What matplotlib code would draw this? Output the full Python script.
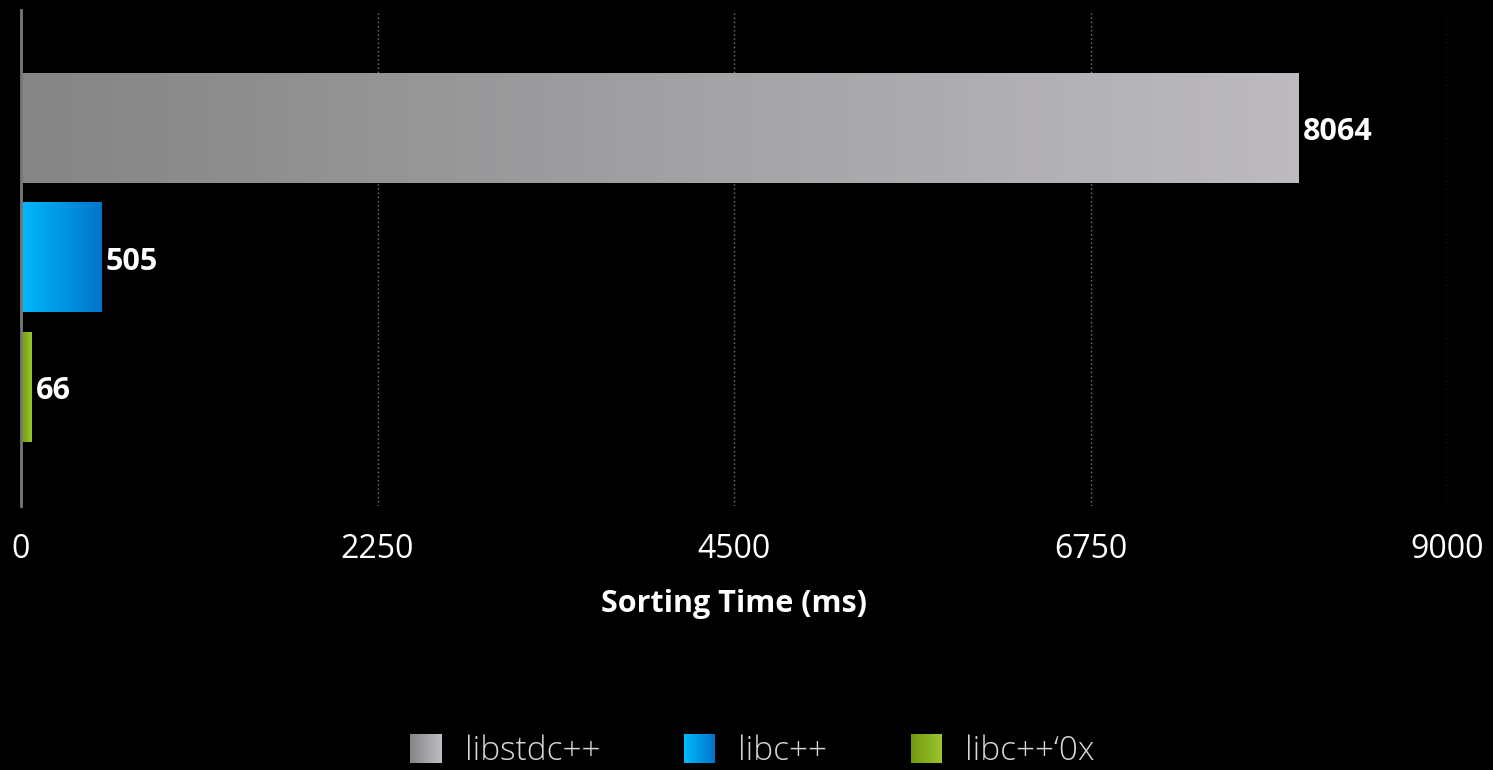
import numpy as np
import matplotlib
matplotlib.use('Agg')
from matplotlib import pyplot as plt
from matplotlib.colors import LinearSegmentedColormap
from matplotlib.patches import Rectangle, Patch
from matplotlib.legend_handler import HandlerBase

# Sorting benchmark, one bar per library
libraries = ['libstdc++', 'libc++', 'libc++\u20180x']
sort_ms = [8064, 505, 66]
xticks = [0, 2250, 4500, 6750, 9000]
# left/right colour of each gradient
grad_colors = [('#858585', '#bdbbc0'),
               ('#00b9fa', '#0075cb'),
               ('#6f980f', '#9cc42d')]

plt.rcParams['font.family'] = ['Open Sans', 'DejaVu Sans']


class GradientHandler(HandlerBase):
    # legend swatch made of thin slices going from c0 to c1
    def __init__(self, c0, c1, n=40):
        HandlerBase.__init__(self)
        self.cmap = LinearSegmentedColormap.from_list('g', [c0, c1])
        self.n = n

    def create_artists(self, legend, orig_handle, xdescent, ydescent,
                       width, height, fontsize, trans):
        out = []
        w = width / self.n
        for i in range(self.n):
            r = Rectangle((-xdescent + i * w, -ydescent), w * 1.1, height,
                          facecolor=self.cmap(i / (self.n - 1)),
                          edgecolor='none', transform=trans)
            out.append(r)
        return out


fig = plt.figure(figsize=(14.93, 7.70), dpi=100, facecolor='black')
ax = fig.add_axes([21 / 1493, 1 - 506 / 770, 1426 / 1493, 496 / 770])
ax.set_facecolor('black')

ypos = np.arange(len(libraries))
bars = ax.barh(ypos, sort_ms, height=0.85, color='none', edgecolor='none', zorder=2)

grad = np.linspace(0, 1, 256).reshape(1, -1)
for b, (c0, c1), v in zip(bars, grad_colors, sort_ms):
    cmap = LinearSegmentedColormap.from_list('g', [c0, c1])
    x0, y0 = b.get_x(), b.get_y()
    im = ax.imshow(grad, cmap=cmap, aspect='auto', zorder=2,
                   extent=(x0, x0 + b.get_width(), y0 + b.get_height(), y0))
    im.set_clip_path(b)
    ax.annotate(str(v), (v, b.get_y() + b.get_height() / 2), xytext=(3, -3),
                textcoords='offset points', ha='left', va='center',
                color='white', fontsize=22, fontweight='bold')

ax.set_xlim(0, 9000)
ax.set_ylim(2.92, -0.91)
ax.set_xticks(xticks)
ax.set_yticks([])
ax.tick_params(axis='x', length=0, pad=31, labelsize=23, labelcolor='white')
for t in ax.get_xticklabels():
    t.set_va('center')
ax.xaxis.grid(True, color='#777777', linestyle=(0, (1, 2)), linewidth=1)
ax.set_axisbelow(True)
for s in ['top', 'right', 'bottom']:
    ax.spines[s].set_visible(False)
ax.spines['left'].set_color('#777777')
ax.spines['left'].set_linewidth(2)
ax.spines['left'].set_zorder(3)

ax.set_xlabel('Sorting Time (ms)', color='white', fontsize=22,
              fontweight='bold', labelpad=17)

handles = [Patch(label=l) for l in libraries]
hmap = {h: GradientHandler(c0, c1) for h, (c0, c1) in zip(handles, grad_colors)}
leg = fig.legend(handles=handles, handler_map=hmap, loc='center',
                 bbox_to_anchor=(0.504, 19 / 770), ncol=3, frameon=False,
                 fontsize=24, handlelength=0.94, handleheight=0.97,
                 handletextpad=0.7, columnspacing=2.5,
                 prop={'size': 24, 'weight': 'light'})
for t in leg.get_texts():
    t.set_color('#d8d8d8')

fig.savefig('out.png', dpi=100, facecolor='black')
